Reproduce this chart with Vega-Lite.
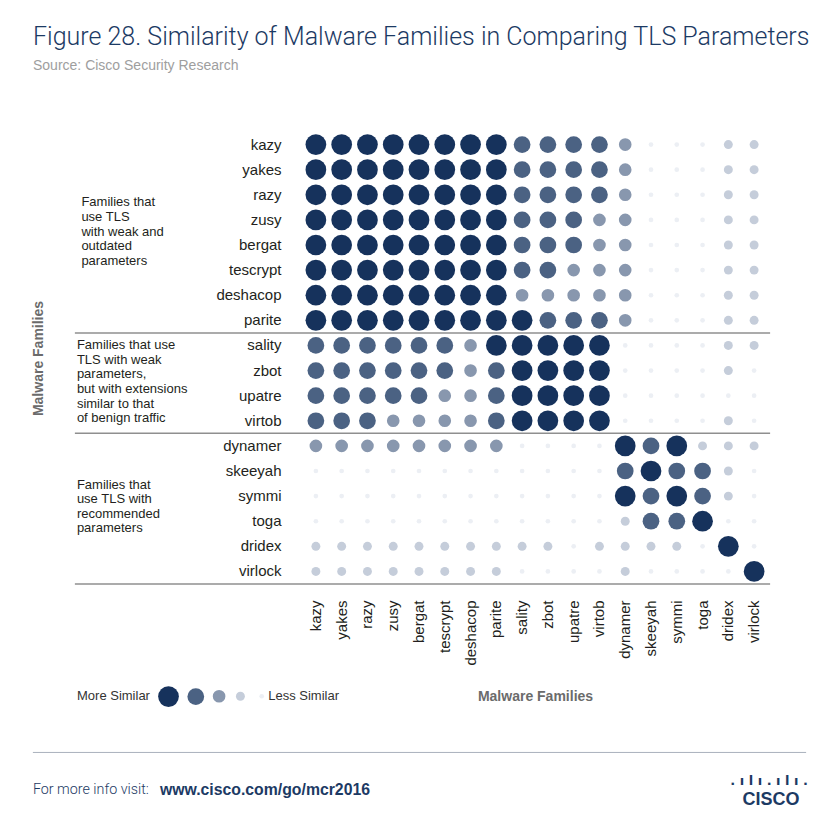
{
"$schema": "https://vega.github.io/schema/vega-lite/v6.json",
"autosize": {"type": "none"},
"padding": {"left": 303, "top": 132, "right": 73, "bottom": 256},
"width": 464,
"height": 452,
"background": "white",
"title": {"text": "Figure 28. Similarity of Malware Families in Comparing TLS Parameters", "subtitle": "Source: Cisco Security Research", "anchor": "start", "frame": "group", "dx": -270, "offset": 59, "font": "Roboto", "fontSize": 25, "fontWeight": 300, "color": "#1c3a64", "subtitleFont": "Liberation Sans", "subtitleFontSize": 14, "subtitleColor": "#9e9e9e", "subtitlePadding": 9},
"config": {"view": {"stroke": null}},
"data": {"values": [
{"r":"kazy","c":"kazy","s":5},{"r":"kazy","c":"yakes","s":5},{"r":"kazy","c":"razy","s":5},{"r":"kazy","c":"zusy","s":5},{"r":"kazy","c":"bergat","s":5},{"r":"kazy","c":"tescrypt","s":5},{"r":"kazy","c":"deshacop","s":5},{"r":"kazy","c":"parite","s":5},{"r":"kazy","c":"sality","s":4},{"r":"kazy","c":"zbot","s":4},{"r":"kazy","c":"upatre","s":4},{"r":"kazy","c":"virtob","s":4},{"r":"kazy","c":"dynamer","s":3},{"r":"kazy","c":"skeeyah","s":1},{"r":"kazy","c":"symmi","s":1},{"r":"kazy","c":"toga","s":1},{"r":"kazy","c":"dridex","s":2},{"r":"kazy","c":"virlock","s":2},
{"r":"yakes","c":"kazy","s":5},{"r":"yakes","c":"yakes","s":5},{"r":"yakes","c":"razy","s":5},{"r":"yakes","c":"zusy","s":5},{"r":"yakes","c":"bergat","s":5},{"r":"yakes","c":"tescrypt","s":5},{"r":"yakes","c":"deshacop","s":5},{"r":"yakes","c":"parite","s":5},{"r":"yakes","c":"sality","s":4},{"r":"yakes","c":"zbot","s":4},{"r":"yakes","c":"upatre","s":4},{"r":"yakes","c":"virtob","s":4},{"r":"yakes","c":"dynamer","s":3},{"r":"yakes","c":"skeeyah","s":1},{"r":"yakes","c":"symmi","s":1},{"r":"yakes","c":"toga","s":1},{"r":"yakes","c":"dridex","s":2},{"r":"yakes","c":"virlock","s":2},
{"r":"razy","c":"kazy","s":5},{"r":"razy","c":"yakes","s":5},{"r":"razy","c":"razy","s":5},{"r":"razy","c":"zusy","s":5},{"r":"razy","c":"bergat","s":5},{"r":"razy","c":"tescrypt","s":5},{"r":"razy","c":"deshacop","s":5},{"r":"razy","c":"parite","s":5},{"r":"razy","c":"sality","s":4},{"r":"razy","c":"zbot","s":4},{"r":"razy","c":"upatre","s":4},{"r":"razy","c":"virtob","s":4},{"r":"razy","c":"dynamer","s":3},{"r":"razy","c":"skeeyah","s":1},{"r":"razy","c":"symmi","s":1},{"r":"razy","c":"toga","s":1},{"r":"razy","c":"dridex","s":2},{"r":"razy","c":"virlock","s":2},
{"r":"zusy","c":"kazy","s":5},{"r":"zusy","c":"yakes","s":5},{"r":"zusy","c":"razy","s":5},{"r":"zusy","c":"zusy","s":5},{"r":"zusy","c":"bergat","s":5},{"r":"zusy","c":"tescrypt","s":5},{"r":"zusy","c":"deshacop","s":5},{"r":"zusy","c":"parite","s":5},{"r":"zusy","c":"sality","s":4},{"r":"zusy","c":"zbot","s":4},{"r":"zusy","c":"upatre","s":4},{"r":"zusy","c":"virtob","s":3},{"r":"zusy","c":"dynamer","s":3},{"r":"zusy","c":"skeeyah","s":1},{"r":"zusy","c":"symmi","s":1},{"r":"zusy","c":"toga","s":1},{"r":"zusy","c":"dridex","s":2},{"r":"zusy","c":"virlock","s":2},
{"r":"bergat","c":"kazy","s":5},{"r":"bergat","c":"yakes","s":5},{"r":"bergat","c":"razy","s":5},{"r":"bergat","c":"zusy","s":5},{"r":"bergat","c":"bergat","s":5},{"r":"bergat","c":"tescrypt","s":5},{"r":"bergat","c":"deshacop","s":5},{"r":"bergat","c":"parite","s":5},{"r":"bergat","c":"sality","s":4},{"r":"bergat","c":"zbot","s":4},{"r":"bergat","c":"upatre","s":4},{"r":"bergat","c":"virtob","s":3},{"r":"bergat","c":"dynamer","s":3},{"r":"bergat","c":"skeeyah","s":1},{"r":"bergat","c":"symmi","s":1},{"r":"bergat","c":"toga","s":1},{"r":"bergat","c":"dridex","s":2},{"r":"bergat","c":"virlock","s":2},
{"r":"tescrypt","c":"kazy","s":5},{"r":"tescrypt","c":"yakes","s":5},{"r":"tescrypt","c":"razy","s":5},{"r":"tescrypt","c":"zusy","s":5},{"r":"tescrypt","c":"bergat","s":5},{"r":"tescrypt","c":"tescrypt","s":5},{"r":"tescrypt","c":"deshacop","s":5},{"r":"tescrypt","c":"parite","s":5},{"r":"tescrypt","c":"sality","s":4},{"r":"tescrypt","c":"zbot","s":4},{"r":"tescrypt","c":"upatre","s":3},{"r":"tescrypt","c":"virtob","s":3},{"r":"tescrypt","c":"dynamer","s":3},{"r":"tescrypt","c":"skeeyah","s":1},{"r":"tescrypt","c":"symmi","s":1},{"r":"tescrypt","c":"toga","s":1},{"r":"tescrypt","c":"dridex","s":2},{"r":"tescrypt","c":"virlock","s":2},
{"r":"deshacop","c":"kazy","s":5},{"r":"deshacop","c":"yakes","s":5},{"r":"deshacop","c":"razy","s":5},{"r":"deshacop","c":"zusy","s":5},{"r":"deshacop","c":"bergat","s":5},{"r":"deshacop","c":"tescrypt","s":5},{"r":"deshacop","c":"deshacop","s":5},{"r":"deshacop","c":"parite","s":5},{"r":"deshacop","c":"sality","s":3},{"r":"deshacop","c":"zbot","s":3},{"r":"deshacop","c":"upatre","s":3},{"r":"deshacop","c":"virtob","s":3},{"r":"deshacop","c":"dynamer","s":3},{"r":"deshacop","c":"skeeyah","s":1},{"r":"deshacop","c":"symmi","s":1},{"r":"deshacop","c":"toga","s":1},{"r":"deshacop","c":"dridex","s":2},{"r":"deshacop","c":"virlock","s":2},
{"r":"parite","c":"kazy","s":5},{"r":"parite","c":"yakes","s":5},{"r":"parite","c":"razy","s":5},{"r":"parite","c":"zusy","s":5},{"r":"parite","c":"bergat","s":5},{"r":"parite","c":"tescrypt","s":5},{"r":"parite","c":"deshacop","s":5},{"r":"parite","c":"parite","s":5},{"r":"parite","c":"sality","s":5},{"r":"parite","c":"zbot","s":4},{"r":"parite","c":"upatre","s":4},{"r":"parite","c":"virtob","s":4},{"r":"parite","c":"dynamer","s":3},{"r":"parite","c":"skeeyah","s":1},{"r":"parite","c":"symmi","s":1},{"r":"parite","c":"toga","s":1},{"r":"parite","c":"dridex","s":2},{"r":"parite","c":"virlock","s":2},
{"r":"sality","c":"kazy","s":4},{"r":"sality","c":"yakes","s":4},{"r":"sality","c":"razy","s":4},{"r":"sality","c":"zusy","s":4},{"r":"sality","c":"bergat","s":4},{"r":"sality","c":"tescrypt","s":4},{"r":"sality","c":"deshacop","s":3},{"r":"sality","c":"parite","s":5},{"r":"sality","c":"sality","s":5},{"r":"sality","c":"zbot","s":5},{"r":"sality","c":"upatre","s":5},{"r":"sality","c":"virtob","s":5},{"r":"sality","c":"dynamer","s":1},{"r":"sality","c":"skeeyah","s":1},{"r":"sality","c":"symmi","s":1},{"r":"sality","c":"toga","s":1},{"r":"sality","c":"dridex","s":2},{"r":"sality","c":"virlock","s":2},
{"r":"zbot","c":"kazy","s":4},{"r":"zbot","c":"yakes","s":4},{"r":"zbot","c":"razy","s":4},{"r":"zbot","c":"zusy","s":4},{"r":"zbot","c":"bergat","s":4},{"r":"zbot","c":"tescrypt","s":4},{"r":"zbot","c":"deshacop","s":3},{"r":"zbot","c":"parite","s":4},{"r":"zbot","c":"sality","s":5},{"r":"zbot","c":"zbot","s":5},{"r":"zbot","c":"upatre","s":5},{"r":"zbot","c":"virtob","s":5},{"r":"zbot","c":"dynamer","s":1},{"r":"zbot","c":"skeeyah","s":1},{"r":"zbot","c":"symmi","s":1},{"r":"zbot","c":"toga","s":1},{"r":"zbot","c":"dridex","s":2},{"r":"zbot","c":"virlock","s":1},
{"r":"upatre","c":"kazy","s":4},{"r":"upatre","c":"yakes","s":4},{"r":"upatre","c":"razy","s":4},{"r":"upatre","c":"zusy","s":4},{"r":"upatre","c":"bergat","s":4},{"r":"upatre","c":"tescrypt","s":3},{"r":"upatre","c":"deshacop","s":3},{"r":"upatre","c":"parite","s":4},{"r":"upatre","c":"sality","s":5},{"r":"upatre","c":"zbot","s":5},{"r":"upatre","c":"upatre","s":5},{"r":"upatre","c":"virtob","s":5},{"r":"upatre","c":"dynamer","s":1},{"r":"upatre","c":"skeeyah","s":1},{"r":"upatre","c":"symmi","s":1},{"r":"upatre","c":"toga","s":1},{"r":"upatre","c":"dridex","s":1},{"r":"upatre","c":"virlock","s":1},
{"r":"virtob","c":"kazy","s":4},{"r":"virtob","c":"yakes","s":4},{"r":"virtob","c":"razy","s":4},{"r":"virtob","c":"zusy","s":3},{"r":"virtob","c":"bergat","s":3},{"r":"virtob","c":"tescrypt","s":3},{"r":"virtob","c":"deshacop","s":3},{"r":"virtob","c":"parite","s":4},{"r":"virtob","c":"sality","s":5},{"r":"virtob","c":"zbot","s":5},{"r":"virtob","c":"upatre","s":5},{"r":"virtob","c":"virtob","s":5},{"r":"virtob","c":"dynamer","s":1},{"r":"virtob","c":"skeeyah","s":1},{"r":"virtob","c":"symmi","s":1},{"r":"virtob","c":"toga","s":1},{"r":"virtob","c":"dridex","s":2},{"r":"virtob","c":"virlock","s":1},
{"r":"dynamer","c":"kazy","s":3},{"r":"dynamer","c":"yakes","s":3},{"r":"dynamer","c":"razy","s":3},{"r":"dynamer","c":"zusy","s":3},{"r":"dynamer","c":"bergat","s":3},{"r":"dynamer","c":"tescrypt","s":3},{"r":"dynamer","c":"deshacop","s":3},{"r":"dynamer","c":"parite","s":3},{"r":"dynamer","c":"sality","s":1},{"r":"dynamer","c":"zbot","s":1},{"r":"dynamer","c":"upatre","s":1},{"r":"dynamer","c":"virtob","s":1},{"r":"dynamer","c":"dynamer","s":5},{"r":"dynamer","c":"skeeyah","s":4},{"r":"dynamer","c":"symmi","s":5},{"r":"dynamer","c":"toga","s":2},{"r":"dynamer","c":"dridex","s":2},{"r":"dynamer","c":"virlock","s":2},
{"r":"skeeyah","c":"kazy","s":1},{"r":"skeeyah","c":"yakes","s":1},{"r":"skeeyah","c":"razy","s":1},{"r":"skeeyah","c":"zusy","s":1},{"r":"skeeyah","c":"bergat","s":1},{"r":"skeeyah","c":"tescrypt","s":1},{"r":"skeeyah","c":"deshacop","s":1},{"r":"skeeyah","c":"parite","s":1},{"r":"skeeyah","c":"sality","s":1},{"r":"skeeyah","c":"zbot","s":1},{"r":"skeeyah","c":"upatre","s":1},{"r":"skeeyah","c":"virtob","s":1},{"r":"skeeyah","c":"dynamer","s":4},{"r":"skeeyah","c":"skeeyah","s":5},{"r":"skeeyah","c":"symmi","s":4},{"r":"skeeyah","c":"toga","s":4},{"r":"skeeyah","c":"dridex","s":2},{"r":"skeeyah","c":"virlock","s":1},
{"r":"symmi","c":"kazy","s":1},{"r":"symmi","c":"yakes","s":1},{"r":"symmi","c":"razy","s":1},{"r":"symmi","c":"zusy","s":1},{"r":"symmi","c":"bergat","s":1},{"r":"symmi","c":"tescrypt","s":1},{"r":"symmi","c":"deshacop","s":1},{"r":"symmi","c":"parite","s":1},{"r":"symmi","c":"sality","s":1},{"r":"symmi","c":"zbot","s":1},{"r":"symmi","c":"upatre","s":1},{"r":"symmi","c":"virtob","s":1},{"r":"symmi","c":"dynamer","s":5},{"r":"symmi","c":"skeeyah","s":4},{"r":"symmi","c":"symmi","s":5},{"r":"symmi","c":"toga","s":4},{"r":"symmi","c":"dridex","s":2},{"r":"symmi","c":"virlock","s":1},
{"r":"toga","c":"kazy","s":1},{"r":"toga","c":"yakes","s":1},{"r":"toga","c":"razy","s":1},{"r":"toga","c":"zusy","s":1},{"r":"toga","c":"bergat","s":1},{"r":"toga","c":"tescrypt","s":1},{"r":"toga","c":"deshacop","s":1},{"r":"toga","c":"parite","s":1},{"r":"toga","c":"sality","s":1},{"r":"toga","c":"zbot","s":1},{"r":"toga","c":"upatre","s":1},{"r":"toga","c":"virtob","s":1},{"r":"toga","c":"dynamer","s":2},{"r":"toga","c":"skeeyah","s":4},{"r":"toga","c":"symmi","s":4},{"r":"toga","c":"toga","s":5},{"r":"toga","c":"dridex","s":1},{"r":"toga","c":"virlock","s":1},
{"r":"dridex","c":"kazy","s":2},{"r":"dridex","c":"yakes","s":2},{"r":"dridex","c":"razy","s":2},{"r":"dridex","c":"zusy","s":2},{"r":"dridex","c":"bergat","s":2},{"r":"dridex","c":"tescrypt","s":2},{"r":"dridex","c":"deshacop","s":2},{"r":"dridex","c":"parite","s":2},{"r":"dridex","c":"sality","s":2},{"r":"dridex","c":"zbot","s":2},{"r":"dridex","c":"upatre","s":1},{"r":"dridex","c":"virtob","s":2},{"r":"dridex","c":"dynamer","s":2},{"r":"dridex","c":"skeeyah","s":2},{"r":"dridex","c":"symmi","s":2},{"r":"dridex","c":"toga","s":1},{"r":"dridex","c":"dridex","s":5},{"r":"dridex","c":"virlock","s":1},
{"r":"virlock","c":"kazy","s":2},{"r":"virlock","c":"yakes","s":2},{"r":"virlock","c":"razy","s":2},{"r":"virlock","c":"zusy","s":2},{"r":"virlock","c":"bergat","s":2},{"r":"virlock","c":"tescrypt","s":2},{"r":"virlock","c":"deshacop","s":2},{"r":"virlock","c":"parite","s":2},{"r":"virlock","c":"sality","s":1},{"r":"virlock","c":"zbot","s":1},{"r":"virlock","c":"upatre","s":1},{"r":"virlock","c":"virtob","s":1},{"r":"virlock","c":"dynamer","s":2},{"r":"virlock","c":"skeeyah","s":1},{"r":"virlock","c":"symmi","s":1},{"r":"virlock","c":"toga","s":1},{"r":"virlock","c":"dridex","s":1},{"r":"virlock","c":"virlock","s":5}
]},
"layer": [
{
"mark": {"type": "point", "filled": true, "opacity": 1, "shape": "circle"},
"encoding": {
"x": {"field": "c", "type": "nominal", "sort": null,
 "scale": {"type": "band", "domain": ["kazy","yakes","razy","zusy","bergat","tescrypt","deshacop","parite","sality","zbot","upatre","virtob","dynamer","skeeyah","symmi","toga","dridex","virlock"], "paddingInner": 0, "paddingOuter": 0},
 "axis": {"orient": "bottom", "labelAngle": 270, "labelPadding": 16, "ticks": false, "domain": false, "grid": false, "labelFont": "Liberation Sans", "labelFontSize": 15, "labelColor": "#231f20", "labelOverlap": false, "title": "Malware Families", "titleFont": "Liberation Sans", "titleFontSize": 14, "titleFontWeight": "bold", "titleColor": "#6b6b6b", "titleY": 112, "titleBaseline": "middle"}},
"y": {"field": "r", "type": "nominal", "sort": null,
 "scale": {"type": "band", "domain": ["kazy","yakes","razy","zusy","bergat","tescrypt","deshacop","parite","sality","zbot","upatre","virtob","dynamer","skeeyah","symmi","toga","dridex","virlock"], "paddingInner": 0, "paddingOuter": 0},
 "axis": {"orient": "left", "labelPadding": 22, "ticks": false, "domain": false, "grid": false, "labelFont": "Liberation Sans", "labelFontSize": 15, "labelColor": "#231f20", "labelOverlap": false, "title": "Malware Families", "titleFont": "Liberation Sans", "titleFontSize": 14, "titleFontWeight": "bold", "titleColor": "#6b6b6b", "titleX": -265, "titleY": 226, "titleAngle": 270, "titleBaseline": "middle", "titleAlign": "center"}},
"color": {"field": "s", "type": "quantitative",
 "scale": {"type": "linear", "zero": false, "domain": [1,2,3,4,5], "range": ["#eceff4","#c5cdda","#8897ae","#4b6283","#16325c"]},
 "legend": {"type": "symbol", "values": [5,4,3,2,1], "orient": "none", "legendX": -226, "legendY": 554, "direction": "horizontal", "title": "More Similar", "titleOrient": "left", "titleFont": "Liberation Sans", "titleFontSize": 13, "titleFontWeight": "normal", "titleColor": "#333333", "titlePadding": 8, "labelExpr": "datum.value == 1 ? 'Less Similar' : ''", "labelFont": "Liberation Sans", "labelFontSize": 13, "labelColor": "#333333", "labelOffset": 0, "columnPadding": 8.3, "symbolStrokeWidth": 0, "symbolType": "circle"}},
"size": {"field": "s", "type": "quantitative",
 "scale": {"type": "linear", "zero": false, "domain": [1,2,3,4,5], "range": [22,80,160,280,430]},
 "legend": {"type": "symbol", "values": [5,4,3,2,1], "orient": "none", "legendX": -226, "legendY": 554, "direction": "horizontal", "title": "More Similar", "titleOrient": "left", "titleFont": "Liberation Sans", "titleFontSize": 13, "titleFontWeight": "normal", "titleColor": "#333333", "titlePadding": 8, "labelExpr": "datum.value == 1 ? 'Less Similar' : ''", "labelFont": "Liberation Sans", "labelFontSize": 13, "labelColor": "#333333", "labelOffset": 0, "columnPadding": 8.3, "symbolStrokeWidth": 0, "symbolType": "circle"}}
}
},
{
"data": {"values": [{"r": "sality"}, {"r": "dynamer"}]},
"mark": {"type": "rule", "color": "#8f8f8f", "strokeWidth": 1.5, "xOffset": -241, "x2Offset": 16},
"encoding": {
"x": {"datum": "kazy"},
"x2": {"datum": "virlock"},
"y": {"field": "r", "type": "nominal", "bandPosition": 0}
}
},
{
"data": {"values": [{"r": "virlock"}]},
"mark": {"type": "rule", "color": "#8f8f8f", "strokeWidth": 1.5, "xOffset": -241, "x2Offset": 16},
"encoding": {
"x": {"datum": "kazy"},
"x2": {"datum": "virlock"},
"y": {"field": "r", "type": "nominal", "bandPosition": 1}
}
},
{
"data": {"values": [{"g": "Families that\nuse TLS\nwith weak and\noutdated\nparameters", "r": "bergat"}]},
"mark": {"type": "text", "align": "left", "baseline": "middle", "lineBreak": "\n", "lineHeight": 14.6, "font": "Liberation Sans", "fontSize": 13, "color": "#231f20", "dx": -234.5, "dy": -30},
"encoding": {
"x": {"datum": "kazy"},
"y": {"field": "r", "type": "nominal", "bandPosition": 0},
"text": {"field": "g", "type": "nominal"}
}
},
{
"data": {"values": [{"g": "Families that use\nTLS with weak\nparameters,\nbut with extensions\nsimilar to that\nof benign traffic", "r": "upatre"}]},
"mark": {"type": "text", "align": "left", "baseline": "middle", "lineBreak": "\n", "lineHeight": 14.6, "font": "Liberation Sans", "fontSize": 13, "color": "#231f20", "dx": -239, "dy": -38},
"encoding": {
"x": {"datum": "kazy"},
"y": {"field": "r", "type": "nominal", "bandPosition": 0},
"text": {"field": "g", "type": "nominal"}
}
},
{
"data": {"values": [{"g": "Families that\nuse TLS with\nrecommended\nparameters", "r": "toga"}]},
"mark": {"type": "text", "align": "left", "baseline": "middle", "lineBreak": "\n", "lineHeight": 14.6, "font": "Liberation Sans", "fontSize": 13, "color": "#231f20", "dx": -239, "dy": -24},
"encoding": {
"x": {"datum": "kazy"},
"y": {"field": "r", "type": "nominal", "bandPosition": 0},
"text": {"field": "g", "type": "nominal"}
}
},
{
"data": {"values": [{"r": "virlock"}]},
"mark": {"type": "rule", "color": "#a9b1bd", "strokeWidth": 1, "xOffset": -283, "x2Offset": 52, "yOffset": 181},
"encoding": {
"x": {"datum": "kazy"},
"x2": {"datum": "virlock"},
"y": {"field": "r", "type": "nominal"}
}
},
{
"data": {"values": [{"t": "For more info visit:", "r": "virlock"}]},
"mark": {"type": "text", "align": "left", "baseline": "middle", "font": "Roboto", "fontWeight": 300, "fontSize": 14.3, "color": "#1c3a64", "dx": -283, "dy": 219},
"encoding": {
"x": {"datum": "kazy"},
"y": {"field": "r", "type": "nominal"},
"text": {"field": "t", "type": "nominal"}
}
},
{
"data": {"values": [{"t": "www.cisco.com/go/mcr2016", "r": "virlock"}]},
"mark": {"type": "text", "align": "left", "baseline": "middle", "font": "Liberation Sans", "fontSize": 15.8, "fontWeight": "bold", "color": "#1c3a64", "dx": -156, "dy": 219},
"encoding": {
"x": {"datum": "kazy"},
"y": {"field": "r", "type": "nominal"},
"text": {"field": "t", "type": "nominal"}
}
},
{
"data": {"values": [{"t": ". ı l ı . ı l ı .", "r": "virlock"}]},
"mark": {"type": "text", "align": "center", "baseline": "alphabetic", "font": "DejaVu Sans", "fontSize": 13, "fontWeight": "bold", "color": "#1c3a64", "dx": 15, "dy": 214},
"encoding": {
"x": {"datum": "virlock"},
"y": {"field": "r", "type": "nominal"},
"text": {"field": "t", "type": "nominal"}
}
},
{
"data": {"values": [{"t": "CISCO", "r": "virlock"}]},
"mark": {"type": "text", "align": "center", "baseline": "alphabetic", "font": "Liberation Sans", "fontSize": 18, "fontWeight": "bold", "color": "#1c3a64", "dx": 17, "dy": 234},
"encoding": {
"x": {"datum": "virlock"},
"y": {"field": "r", "type": "nominal"},
"text": {"field": "t", "type": "nominal"}
}
}
]
}
